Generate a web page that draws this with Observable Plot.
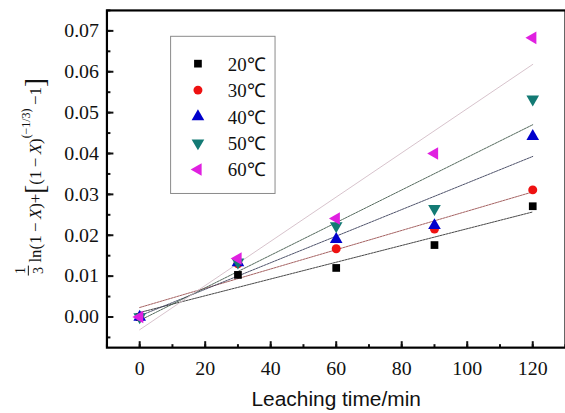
<!DOCTYPE html>
<html>
<head>
<meta charset="utf-8">
<script src="https://cdn.jsdelivr.net/npm/d3@7"></script>
<script src="https://cdn.jsdelivr.net/npm/@observablehq/plot@0.6"></script>
<style>
  html, body { margin: 0; padding: 0; background: #fff; overflow: hidden; }
  #chart { width: 565px; height: 413px; overflow: hidden; }
</style>
</head>
<body>
<div id="chart"></div>
<script>
const times = [0, 30, 60, 90, 120];
const seriesNames = ["20℃", "30℃", "40℃", "50℃", "60℃"];
const t20 = [0, 0.0103, 0.0120, 0.0176, 0.0271];
const t30 = [0, 0.0130, 0.0167, 0.0215, 0.0311];
const t40 = [0, 0.0133, 0.0190, 0.0224, 0.0442];
const t50 = [0, 0.0134, 0.0223, 0.0265, 0.0533];
const t60 = [0, 0.0143, 0.0241, 0.0400, 0.0683];
const xTicks = [0, 20, 40, 60, 80, 100, 120];
const yTicks = [0, 0.01, 0.02, 0.03, 0.04, 0.05, 0.06, 0.07];

const SERIF = "Liberation Serif, serif";
const SANS = "Liberation Sans, sans-serif";

const seriesValues = [t20, t30, t40, t50, t60];
const dotColors = ["#000000", "#ee1111", "#0000cc", "#137a74", "#e020e0"];
const lineColors = ["#333333", "#9a5050", "#3a3f5a", "#40584a", "#d2bcc6"];

const tri = (angle) => ({
  draw(ctx, size) {
    const r = Math.sqrt(size / 1.3);
    for (let i = 0; i < 3; i++) {
      const a = angle + i * 2 * Math.PI / 3;
      const px = r * Math.cos(a), py = r * Math.sin(a);
      if (i === 0) ctx.moveTo(px, py); else ctx.lineTo(px, py);
    }
    ctx.closePath();
  }
});
const sq = { draw(ctx, size) { const s = Math.sqrt(size); ctx.rect(-s/2, -s/2, s, s); } };
const circ = { draw(ctx, size) { const r = Math.sqrt(size / Math.PI); ctx.moveTo(r, 0); ctx.arc(0, 0, r, 0, 2 * Math.PI); } };
const symbols = [sq, circ, tri(-Math.PI/2), tri(Math.PI/2), tri(Math.PI)];
const symSizes = [60, 64, 70, 70, 70];

const rows = [];
seriesValues.forEach((vals, si) => {
  vals.forEach((v, i) => rows.push({ series: seriesNames[si], si, t: times[i], v }));
});

const marks = [];
seriesValues.forEach((vals, si) => {
  const d = rows.filter(r => r.si === si);
  marks.push(Plot.linearRegressionY(d, {x: "t", y: "v", ci: 0, stroke: lineColors[si], strokeWidth: 0.9, strokeDasharray: si === 4 ? null : "2,1"}));
});
[0,1,2,3,4].forEach(si => {
  const d = rows.filter(r => r.si === si);
  marks.push(Plot.dot(d, {x: "t", y: "v", symbol: () => symbols[si], r: Math.sqrt(symSizes[si] / Math.PI), fill: dotColors[si], stroke: "none"}));
});

const plot = Plot.plot({
  width: 568,
  height: 413,
  marginLeft: 107,
  marginRight: 0,
  marginTop: 10,
  marginBottom: 64,
  style: {background: "#fff", color: "#111"},
  symbol: {type: "identity"},
  x: {domain: [-10, 130], label: null},
  y: {domain: [-0.0075, 0.075], label: null},
  marks: [
    Plot.axisX({ticks: d3.range(-10, 131, 10), tickSize: -3, text: null, strokeWidth: 2, label: null}),
    Plot.axisX({ticks: xTicks, tickSize: -6, tickPadding: 19, tickFormat: d => d, fontFamily: SERIF, fontSize: 20, strokeWidth: 2, label: null}),
    Plot.axisY({ticks: d3.range(-0.005, 0.0751, 0.005), tickSize: -4, text: null, strokeWidth: 2, label: null}),
    Plot.axisY({ticks: yTicks, tickSize: -7, tickPadding: 15, tickFormat: d => d.toFixed(2), fontFamily: SERIF, fontSize: 20, strokeWidth: 2, label: null}),
    Plot.frame({stroke: "#000", strokeWidth: 2.2}),
    ...marks,
    Plot.text(["Leaching time/min"], {frameAnchor: "bottom", dy: 59, text: d => d, fontFamily: SANS, fontSize: 21, fill: "#111"})
  ]
});
document.getElementById("chart").appendChild(plot);

const svg = d3.select(plot);
svg.selectAll('[aria-label$="tick label"]').style("font-family", SERIF).style("font-size", "20px");
svg.selectAll('[aria-label$="tick label"] text').style("font-family", SERIF);

// Legend
const lg = svg.append("g").style("text-anchor", "start");
lg.append("rect").attr("x", 171.5).attr("y", 36.5).attr("width", 105).attr("height", 158)
  .attr("fill", "#fff").attr("stroke", "#8a8a8a").attr("stroke-width", 1);
seriesNames.forEach((name, i) => {
  const cy = 64 + i * 26.6;
  lg.append("path").attr("transform", `translate(199,${cy})`)
    .attr("d", d3.symbol(symbols[i], symSizes[i])()).attr("fill", dotColors[i]);
  lg.append("text").attr("x", 229).attr("y", cy + 7).text(name)
    .style("font-family", SERIF).style("font-size", "19px").style("fill", "#111").style("text-anchor", "start");
});

// Y label (rotated formula)
const yl = svg.append("g").attr("transform", "translate(41,283) rotate(-90)")
  .style("font-family", SERIF).style("fill", "#111");
yl.append("text").attr("x", 11).attr("y", -16).style("text-anchor", "middle").style("font-size", "14px").text("1");
yl.append("line").attr("x1", 6).attr("x2", 16).attr("y1", -12.5).attr("y2", -12.5).attr("stroke", "#111").attr("stroke-width", 1);
yl.append("text").attr("x", 11).attr("y", 2).style("text-anchor", "middle").style("font-size", "14px").text("3");
const t = yl.append("text").attr("x", 19).attr("y", 0).style("font-size", "17px").style("text-anchor", "start");
t.append("tspan").text("ln(1\u2009−\u2009");
t.append("tspan").style("font-style", "italic").text("X");
t.append("tspan").text(")+");
t.append("tspan").style("font-size", "27px").attr("dy", 3).text("[");
t.append("tspan").attr("dy", -3).text("(1\u2009−\u2009");
t.append("tspan").style("font-style", "italic").text("X");
t.append("tspan").text(")");
t.append("tspan").style("font-size", "12px").attr("dy", -11).text("(−1/3)");
t.append("tspan").attr("dy", 11).text("\u2009−1");
t.append("tspan").style("font-size", "27px").attr("dy", 3).text("]");
</script>
</body>
</html>
